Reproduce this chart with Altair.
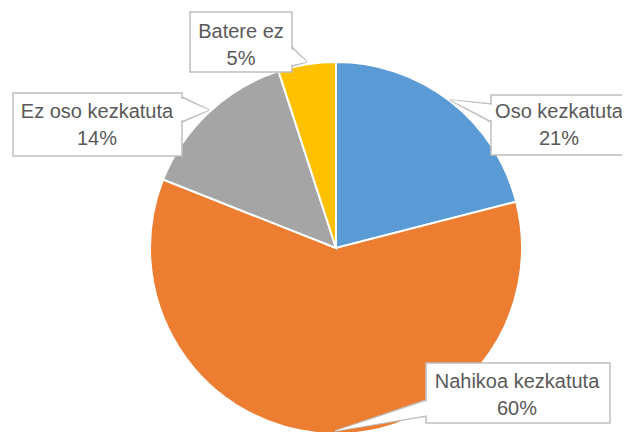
import altair as alt
import pandas as pd

# ---- data ----
categories = ["Oso kezkatuta", "Nahikoa kezkatuta", "Ez oso kezkatuta", "Batere ez"]
shares = [21, 60, 14, 5]
colors = ["#5B9BD5", "#ED7D31", "#A5A5A5", "#FFC000"]

# ---- layout (page pixels) ----
M = 8  # page margin
CX, CY, R = 336, 248, 186
boxes = {  # x1, y1, x2, y2, text-center x, first-line center y
    "Oso kezkatuta": (491, 95, 645, 155, 559, 112),
    "Nahikoa kezkatuta": (426, 363, 610, 423, 517, 382),
    "Ez oso kezkatuta": (13, 93, 182, 156, 97, 112),
    "Batere ez": (190, 12, 292, 72, 241, 32),
}
pointers = {  # tip, base1, base2
    "Oso kezkatuta": [(450, 100), (491, 104), (491, 122)],
    "Nahikoa kezkatuta": [(335, 431), (426, 400), (426, 416)],
    "Ez oso kezkatuta": [(209, 110), (182, 97), (182, 122)],
    "Batere ez": [(307, 62), (292, 47), (292, 66)],
}

pie_df = pd.DataFrame({"cat": categories, "share": shares, "ord": range(len(categories))})

lab_rows = []
for c, s in zip(categories, shares):
    x1, y1, x2, y2, tx, ty = boxes[c]
    lab_rows.append({"cat": c, "x1": x1 - M, "y1": y1 - M, "x2": x2 - M, "y2": y2 - M,
                     "tx": tx - M, "ty": ty - M, "txt": f"{c}\n{s}%"})
lab_df = pd.DataFrame(lab_rows)

ptr_rows = []
fill_rows = []
for c in categories:
    pts = pointers[c]
    seq = [pts[0], pts[1], pts[2], pts[0]]
    for i, (px, py) in enumerate(seq):
        ptr_rows.append({"cat": c, "i": i, "px": px - M, "py": py - M})
    tip = pts[0]
    bx = pts[1][0]
    dx = 2 if tip[0] < bx else -2
    fseq = [pts[0], (pts[1][0] + dx, pts[1][1] + 1), (pts[2][0] + dx, pts[2][1] - 1), pts[0]]
    for i, (px, py) in enumerate(fseq):
        fill_rows.append({"cat": c, "i": i, "px": px - M, "py": py - M})
ptr_df = pd.DataFrame(ptr_rows)
fill_df = pd.DataFrame(fill_rows)

pie = alt.Chart(pie_df).mark_arc(radius=R, stroke="white", strokeWidth=2).encode(
    theta=alt.Theta("share:Q", stack=True),
    order=alt.Order("ord:Q"),
    color=alt.Color("cat:N", scale=alt.Scale(domain=categories, range=colors), legend=None),
    x=alt.value(CX - M),
    y=alt.value(CY - M),
)

ptr = alt.Chart(ptr_df).mark_line(fill="white", stroke="#BFBFBF", strokeWidth=1.5).encode(
    x=alt.X("px:Q", scale=None, axis=None),
    y=alt.Y("py:Q", scale=None, axis=None),
    detail="cat:N",
    order="i:Q",
)

box = alt.Chart(lab_df).mark_rect(fill="white", stroke="#BFBFBF", strokeWidth=1.5).encode(
    x=alt.X("x1:Q", scale=None, axis=None),
    x2="x2:Q",
    y=alt.Y("y1:Q", scale=None, axis=None),
    y2="y2:Q",
)

ptr_fill = alt.Chart(fill_df).mark_line(fill="white", strokeWidth=0, stroke="white", strokeOpacity=0).encode(
    x=alt.X("px:Q", scale=None, axis=None),
    y=alt.Y("py:Q", scale=None, axis=None),
    detail="cat:N",
    order="i:Q",
)

txt = alt.Chart(lab_df).mark_text(
    font="Liberation Sans", fontSize=20, color="#595959", lineBreak="\n",
    lineHeight=27, align="center", baseline="middle",
).encode(
    x=alt.X("tx:Q", scale=None, axis=None),
    y=alt.Y("ty:Q", scale=None, axis=None),
    text="txt:N",
)

chart = alt.layer(pie, ptr, box, ptr_fill, txt).properties(
    width=614, height=424, padding=0, autosize="none"
).configure_view(stroke=None)

chart.save("out.html", embed_options={"renderer": "svg", "actions": False})
